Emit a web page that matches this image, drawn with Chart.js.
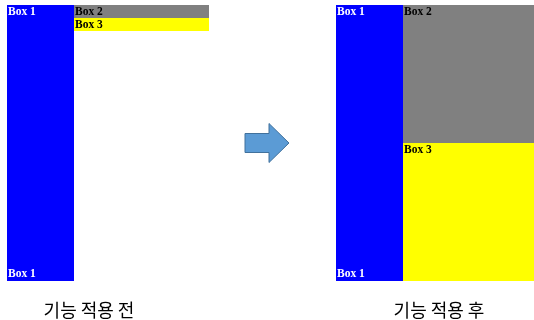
<!DOCTYPE html>
<html>
<head>
<meta charset="utf-8">
<script src="https://cdn.jsdelivr.net/npm/chart.js@4"></script>
<style>
html,body{margin:0;padding:0;background:#fff;}
#wrap{width:534px;height:320px;position:relative;}
</style>
</head>
<body>
<div id="wrap"><canvas id="c" width="534" height="320"></canvas></div>
<script>
// ---- data (diagram units) ----
const panelCaptions = ['기능 적용 전', '기능 적용 후'];
const captionCenterX = [89, 439];
const captionCenterY = [310, 310];

const boxNames  = ['Box 1', 'Box 2', 'Box 3', 'Box 1', 'Box 2', 'Box 3'];
const boxLeft   = [7, 74, 74, 336, 403, 403];
const boxRight  = [74, 209, 209, 403, 534, 534];
const boxTop    = [5, 5, 18, 5, 5, 143];
const boxBottom = [281, 18, 31, 281, 143, 281];
const boxBottomLabel = [true, false, false, true, false, false];

const arrowFrom = [245, 143];
const arrowTo   = [289, 143];

// ---- styles ----
const boxFill = ['#0000FF', '#808080', '#FFFF00', '#0000FF', '#808080', '#FFFF00'];
const boxText = ['#FFFFFF', '#000000', '#000000', '#FFFFFF', '#000000', '#000000'];

const diagramPlugin = {
  id: 'diagram',
  afterDatasetsDraw(chart) {
    const ctx = chart.ctx;
    const xs = chart.scales.x, ys = chart.scales.y;
    const px = v => xs.getPixelForValue(v);
    const py = v => ys.getPixelForValue(v);
    ctx.save();
    // boxes
    for (let i = 0; i < boxNames.length; i++) {
      const x0 = px(boxLeft[i]), x1 = px(boxRight[i]);
      const y0 = py(boxTop[i]), y1 = py(boxBottom[i]);
      ctx.fillStyle = boxFill[i];
      ctx.fillRect(x0, y0, x1 - x0, y1 - y0);
    }
    ctx.font = 'bold 11.5px "Liberation Serif", "DejaVu Serif", serif';
    ctx.textAlign = 'left';
    ctx.textBaseline = 'alphabetic';
    for (let i = 0; i < boxNames.length; i++) {
      const x0 = px(boxLeft[i]);
      const y0 = py(boxTop[i]), y1 = py(boxBottom[i]);
      ctx.fillStyle = boxText[i];
      ctx.fillText(boxNames[i], x0 + 1, y0 + 10);
      if (boxBottomLabel[i]) ctx.fillText(boxNames[i], x0 + 1, y1 - 4);
    }
    // arrow
    const ax0 = px(arrowFrom[0]), ay = py(arrowFrom[1]);
    const ax1 = px(arrowTo[0]);
    const shaftHalf = 9.5, headHalf = 19.5, headLen = 20;
    const hx = ax1 - headLen;
    ctx.beginPath();
    ctx.moveTo(ax0, ay - shaftHalf);
    ctx.lineTo(hx, ay - shaftHalf);
    ctx.lineTo(hx, ay - headHalf);
    ctx.lineTo(ax1, ay);
    ctx.lineTo(hx, ay + headHalf);
    ctx.lineTo(hx, ay + shaftHalf);
    ctx.lineTo(ax0, ay + shaftHalf);
    ctx.closePath();
    ctx.fillStyle = '#5B9BD5';
    ctx.fill();
    ctx.strokeStyle = '#41719C';
    ctx.lineWidth = 1;
    ctx.stroke();
    // captions
    ctx.font = '18px "Noto Sans CJK KR", "Noto Sans", sans-serif';
    ctx.fillStyle = '#000000';
    ctx.textAlign = 'center';
    ctx.textBaseline = 'middle';
    for (let i = 0; i < panelCaptions.length; i++) {
      ctx.fillText(panelCaptions[i], px(captionCenterX[i]), py(captionCenterY[i]));
    }
    ctx.restore();
  }
};

new Chart(document.getElementById('c'), {
  type: 'scatter',
  data: { datasets: [{ data: [] }] },
  options: {
    responsive: false,
    animation: false,
    devicePixelRatio: 1,
    layout: { padding: 0 },
    plugins: { legend: { display: false }, tooltip: { enabled: false } },
    scales: {
      x: { type: 'linear', min: 0, max: 534, display: false },
      y: { type: 'linear', min: 0, max: 320, reverse: true, display: false }
    }
  },
  plugins: [diagramPlugin]
});
</script>
</body>
</html>
